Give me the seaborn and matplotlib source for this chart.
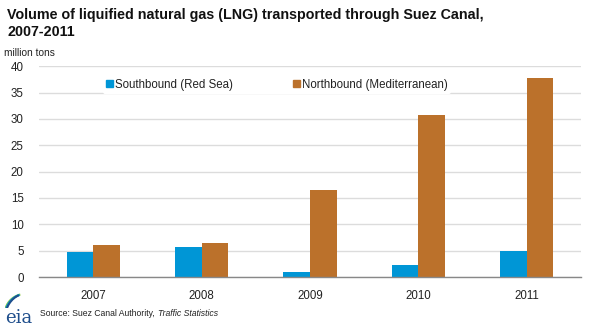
import matplotlib
matplotlib.use("Agg")
import matplotlib.pyplot as plt
import seaborn as sns
import pandas as pd
from matplotlib.patches import Rectangle, Arc

years = ["2007", "2008", "2009", "2010", "2011"]
southbound = [4.8, 5.7, 1.0, 2.3, 4.9]
northbound = [6.1, 6.4, 16.5, 30.7, 37.8]
series_names = ["Southbound (Red Sea)", "Northbound (Mediterranean)"]
colors = ["#0096D6", "#BB712B"]

df = pd.DataFrame({
    "year": years * 2,
    "value": southbound + northbound,
    "series": [series_names[0]] * len(years) + [series_names[1]] * len(years),
})

sns.set_style("white")
plt.rcParams["font.family"] = ["Liberation Sans", "DejaVu Sans"]

fig = plt.figure(figsize=(5.9, 3.31), dpi=100)
ax = fig.add_axes([0.066, 0.163, 0.919, 0.637])

sns.barplot(data=df, x="year", y="value", hue="series", palette=colors,
            width=0.49, ax=ax, saturation=1, edgecolor="none", legend=False)

ax.set_ylim(0, 40)
ax.set_xlim(-0.5, 4.5)
ax.set_yticks(range(0, 41, 5))
ax.grid(axis="y", color="#DCDCDC", linewidth=1)
ax.set_axisbelow(True)
for s in ["top", "right", "left"]:
    ax.spines[s].set_visible(False)
ax.spines["bottom"].set_color("#888888")
ax.spines["bottom"].set_linewidth(1)
ax.set_xlabel("")
ax.set_ylabel("")
ax.tick_params(axis="y", length=0, labelsize=8.3, colors="#222222", pad=11)
ax.tick_params(axis="x", length=0, labelsize=8.3, colors="#222222", pad=9)
ax.set_xticks([-0.5, 0.5, 1.5, 2.5, 3.5, 4.5], minor=True)
ax.tick_params(axis="x", which="minor", length=4, color="#888888", direction="out")

# legend
handles = [Rectangle((0, 0), 1, 1, color=c) for c in colors]
leg = ax.legend(handles, series_names, loc="upper center", bbox_to_anchor=(0.439, 0.985),
                ncol=2, frameon=True, fontsize=8.3, handlelength=0.6, handleheight=0.6,
                handletextpad=0.2, columnspacing=5.2, borderpad=0.3, facecolor="white",
                edgecolor="none", framealpha=1)
for t in leg.get_texts():
    t.set_color("#222222")

fig.text(0.012, 0.975, "Volume of liquified natural gas (LNG) transported through Suez Canal,\n2007-2011",
         fontsize=10.3, fontweight="bold", va="top", ha="left", color="#111111", linespacing=1.25)
fig.text(0.006, 0.84, "million tons", fontsize=7.3, va="center", ha="left", color="#222222")

src1 = fig.text(0.068, 0.053, "Source: Suez Canal Authority, ", fontsize=6.2, va="center", ha="left", color="#222222")
fig.canvas.draw()
bb = src1.get_window_extent(renderer=fig.canvas.get_renderer())
x_end = bb.x1 / fig.bbox.width
fig.text(x_end + 0.002, 0.053, "Traffic Statistics", fontsize=6.2, va="center", ha="left", style="italic", color="#222222")

# eia logo
fig.text(0.008, 0.04, "eia", fontsize=13, family="DejaVu Serif", color="#1F4E8C", va="center", ha="left")
lax = fig.add_axes([0.008, 0.07, 0.05, 0.06])
lax.set_xlim(0, 1); lax.set_ylim(0, 1); lax.axis("off")
for i, c in enumerate(["#8CC63F", "#00A0DC", "#1F4E8C"]):
    lax.add_patch(Arc((0.7, -0.3 - i * 0.15), 1.4, 2.0 + i * 0.3, theta1=100, theta2=170, color=c, lw=1.5))

fig.savefig("out.png", dpi=100)
